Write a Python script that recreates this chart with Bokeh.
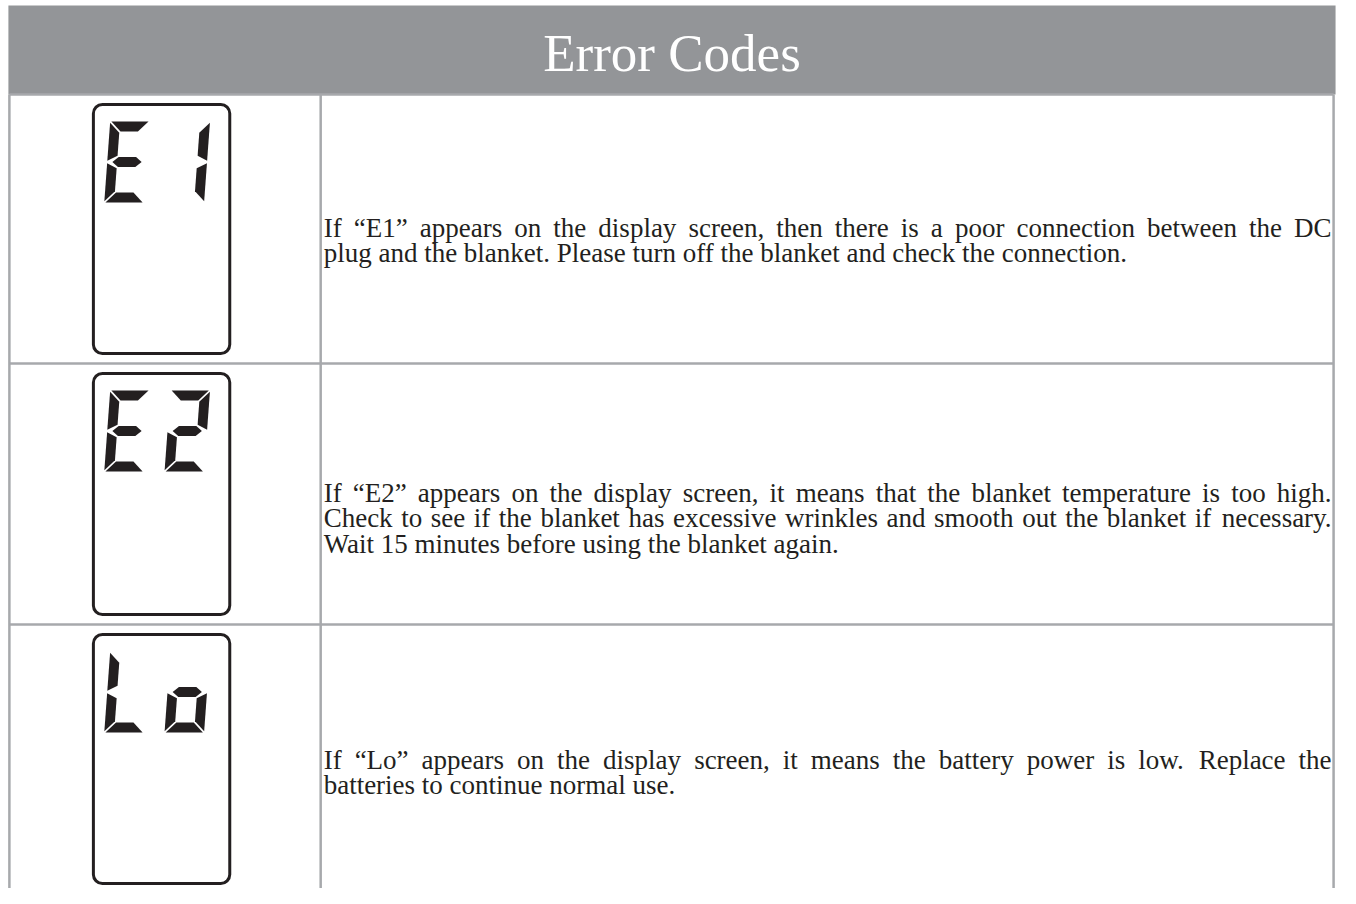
from bokeh.plotting import figure
from bokeh.models import Range1d
from bokeh.core.properties import value
from bokeh.embed import file_html
from bokeh.resources import INLINE

# ---------------- data ----------------
title = "Error Codes"
codes = ["E1", "E2", "Lo"]
descriptions = [
    ["If \u201cE1\u201d appears on the display screen, then there is a poor connection between the DC",
     "plug and the blanket. Please turn off the blanket and check the connection."],
    ["If \u201cE2\u201d appears on the display screen, it means that the blanket temperature is too high.",
     "Check to see if the blanket has excessive wrinkles and smooth out the blanket if necessary.",
     "Wait 15 minutes before using the blanket again."],
    ["If \u201cLo\u201d appears on the display screen, it means the battery power is low. Replace the",
     "batteries to continue normal use."],
]
# seven-segment lit segments per character
seven_seg = {"E": "adefg", "1": "bc", "2": "abged", "L": "def", "o": "cdeg"}

# ---------------- layout / style ----------------
FIG_W, FIG_H = 1340, 888
X_LO, X_HI = 0, 1356
Y_TOP, Y_BOT = 0, 888
SX = (X_HI - X_LO) / FIG_W
HEADER_TOP, HEADER_BOT = 5, 94
ROW_EDGES = [94, 363, 624, 904]
COL_X = [9, 324, 1349]
GRID_COLOR = "#a7a9ac"
HEADER_COLOR = "#939598"
INK = "#231f20"
FONT = "Liberation Serif"
BODY_SIZE = 27
LEAD = 25.5
FIRST_BASE = [227, 492, 759]
TEXT_LEFT, TEXT_RIGHT = 327, 1347

BOX_L, BOX_R = 94, 232
DIG_H, DIG_W, SLANT, THK = 81, 40, 6, 10
DIG_OFF = [11, 72]

p = figure(width=FIG_W, height=FIG_H, x_range=Range1d(X_LO, X_HI), y_range=Range1d(Y_BOT, Y_TOP),
           output_backend="svg", toolbar_location=None, min_border=0,
           x_axis_location=None, y_axis_location=None)
p.grid.visible = False
p.outline_line_color = None
p.background_fill_color = "white"
p.border_fill_color = "white"

# header band
p.quad(left=[8], right=[1351], top=[HEADER_TOP], bottom=[HEADER_BOT],
       fill_color=HEADER_COLOR, line_color=None)
p.text(x=[(8 + 1351) / 2], y=[52], text=[title], text_font=value(FONT), text_font_size="53px",
       text_color="white", text_align="center", text_baseline="alphabetic")

# grid lines
x0s, y0s, x1s, y1s = [], [], [], []
for cx in COL_X:
    x0s.append(cx); y0s.append(HEADER_BOT); x1s.append(cx); y1s.append(ROW_EDGES[-1])
for ry in ROW_EDGES[1:-1]:
    x0s.append(COL_X[0]); y0s.append(ry); x1s.append(COL_X[-1]); y1s.append(ry)
x0s.append(COL_X[0]); y0s.append(HEADER_BOT); x1s.append(COL_X[-1]); y1s.append(HEADER_BOT)
p.segment(x0=x0s, y0=y0s, x1=x1s, y1=y1s, line_color=GRID_COLOR, line_width=2.5)


def seg_poly(name):
    W, H, t, g = DIG_W, DIG_H, THK, 1.2
    m = H / 2
    shapes = {
        "a": [(g, 0), (W - g, 0), (W - g - t, t), (g + t, t)],
        "d": [(g + t, H - t), (W - g - t, H - t), (W - g, H), (g, H)],
        "g": [(g + t * 0.4, m), (g + t, m - t / 2), (W - g - t, m - t / 2), (W - g - t * 0.4, m),
              (W - g - t, m + t / 2), (g + t, m + t / 2)],
        "f": [(0, g), (t, t + g), (t, m - t / 2 - g), (0, m - g)],
        "e": [(0, m + g), (t, m + t / 2 + g), (t, H - t - g), (0, H - g)],
        "b": [(W, g), (W, m - g), (W - t, m - t / 2 - g), (W - t, t + g)],
        "c": [(W, m + g), (W, H - g), (W - t, H - t - g), (W - t, m + t / 2 + g)],
    }
    return shapes[name]


seg_xs, seg_ys = [], []
box_l, box_r, box_t, box_b = [], [], [], []
for i, code in enumerate(codes):
    rt, rb = ROW_EDGES[i], ROW_EDGES[i + 1]
    bt = rt + 10
    bb = bt + min(rb - rt - 20, 249)
    box_l.append(BOX_L); box_r.append(BOX_R); box_t.append(bt); box_b.append(bb)
    top = bt + 17
    for k, ch in enumerate(code):
        ox = BOX_L + DIG_OFF[k]
        for s in seven_seg[ch]:
            pts = seg_poly(s)
            seg_xs.append([ox + px + SLANT * (1 - py / DIG_H) for px, py in pts])
            seg_ys.append([top + py for px, py in pts])

p.quad(left=box_l, right=box_r, top=box_t, bottom=box_b, fill_color="white",
       line_color=INK, line_width=3, border_radius=9)
p.patches(xs=seg_xs, ys=seg_ys, fill_color=INK, line_color=None)

# text metrics (Times / Liberation Serif advance widths, em)
W_EM = dict(zip("abcdefghijklmnopqrstuvwxyz",
                [.444, .5, .444, .5, .444, .333, .5, .5, .278, .278, .5, .278, .778, .5, .5, .5, .5,
                 .333, .389, .278, .5, .5, .722, .5, .5, .444]))
W_EM.update(zip("ABCDEFGHIJKLMNOPQRSTUVWXYZ",
                [.722, .667, .667, .722, .611, .556, .722, .722, .333, .389, .722, .611, .889, .722,
                 .722, .556, .722, .667, .556, .611, .722, .722, .944, .722, .722, .611]))
W_EM.update({c: .5 for c in "0123456789"})
W_EM.update({" ": .25, ".": .25, ",": .25, "\u201c": .444, "\u201d": .444})


def word_w(w):
    return sum(W_EM.get(c, .5) for c in w) * BODY_SIZE * SX


lx, ly, lt = [], [], []
rx, ry, rtxt = [], [], []
for i, lines in enumerate(descriptions):
    n = len(lines)
    for j, line in enumerate(lines):
        y = FIRST_BASE[i] + j * LEAD
        if j < n - 1:
            words = line.split(" ")
            widths = [word_w(w) for w in words]
            gap = (TEXT_RIGHT - TEXT_LEFT - sum(widths)) / (len(words) - 1)
            x = TEXT_LEFT
            for w, ww in zip(words[:-1], widths[:-1]):
                lx.append(x); ly.append(y); lt.append(w)
                x += ww + gap
            rx.append(TEXT_RIGHT); ry.append(y); rtxt.append(words[-1])
        else:
            lx.append(TEXT_LEFT); ly.append(y); lt.append(line)

p.text(x=lx, y=ly, text=lt, text_font=value(FONT), text_font_size=f"{BODY_SIZE}px",
       text_color=INK, text_align="left", text_baseline="alphabetic")
p.text(x=rx, y=ry, text=rtxt, text_font=value(FONT), text_font_size=f"{BODY_SIZE}px",
       text_color=INK, text_align="right", text_baseline="alphabetic")

open("out.html", "w").write(file_html(p, INLINE))
